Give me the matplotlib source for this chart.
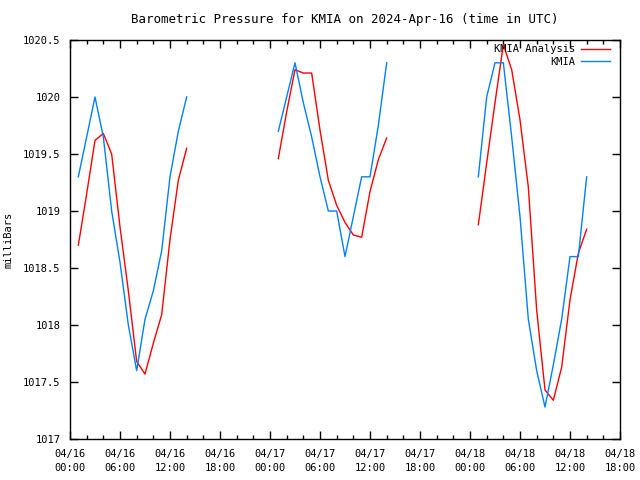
import numpy as np
import matplotlib
matplotlib.use("Agg")
import matplotlib.pyplot as plt

# hours since 2024-04-16 00:00 UTC, three separate runs
hours_1 = [1, 2, 3, 4, 5, 6, 7, 8, 9, 10, 11, 12, 13, 14]
hours_2 = [25, 26, 27, 28, 29, 30, 31, 32, 33, 34, 35, 36, 37, 38]
hours_3 = [49, 50, 51, 52, 53, 54, 55, 56, 57, 58, 59, 60, 61, 62]

kmia_1 = [1019.3, 1019.65, 1020.0, 1019.65, 1019.0, 1018.55, 1018.0, 1017.6,
          1018.05, 1018.3, 1018.65, 1019.3, 1019.7, 1020.0]
kmia_2 = [1019.7, 1020.0, 1020.3, 1019.95, 1019.65, 1019.3, 1019.0, 1019.0,
          1018.6, 1018.95, 1019.3, 1019.3, 1019.75, 1020.3]
kmia_3 = [1019.3, 1020.0, 1020.3, 1020.3, 1019.65, 1018.95, 1018.05, 1017.6,
          1017.28, 1017.65, 1018.05, 1018.6, 1018.6, 1019.3]

anal_1 = [1018.7, 1019.15, 1019.62, 1019.68, 1019.5, 1018.86, 1018.3, 1017.68,
          1017.57, 1017.84, 1018.09, 1018.75, 1019.27, 1019.55]
anal_2 = [1019.46, 1019.87, 1020.24, 1020.21, 1020.21, 1019.71, 1019.27, 1019.05,
          1018.9, 1018.79, 1018.77, 1019.17, 1019.45, 1019.64]
anal_3 = [1018.88, 1019.42, 1019.95, 1020.46, 1020.24, 1019.8, 1019.21, 1018.13,
          1017.43, 1017.34, 1017.63, 1018.22, 1018.63, 1018.84]

tick_hours = [0, 6, 12, 18, 24, 30, 36, 42, 48, 54, 60, 66]
tick_labels = ['04/16\n00:00', '04/16\n06:00', '04/16\n12:00', '04/16\n18:00',
               '04/17\n00:00', '04/17\n06:00', '04/17\n12:00', '04/17\n18:00',
               '04/18\n00:00', '04/18\n06:00', '04/18\n12:00', '04/18\n18:00']
y_ticks = [1017, 1017.5, 1018, 1018.5, 1019, 1019.5, 1020, 1020.5]
y_labels = ['1017', '1017.5', '1018', '1018.5', '1019', '1019.5', '1020', '1020.5']

plt.rcParams['font.family'] = 'DejaVu Sans Mono'
plt.rcParams['font.size'] = 7.5

fig = plt.figure(figsize=(6.4, 4.8), dpi=100)
ax = fig.add_axes([70 / 640, 41 / 480, 550 / 640, 399 / 480])

# join the runs with NaN gaps so each is a separate piece of line
x = hours_1 + [np.nan] + hours_2 + [np.nan] + hours_3
y_anal = anal_1 + [np.nan] + anal_2 + [np.nan] + anal_3
y_kmia = kmia_1 + [np.nan] + kmia_2 + [np.nan] + kmia_3

ax.plot(x, y_anal, color='#ff0000', lw=1, label='KMIA Analysis')
ax.plot(x, y_kmia, color='#0080ff', lw=1, label='KMIA')

ax.set_xlim(0, 66)
ax.set_ylim(1017, 1020.5)
ax.set_xticks(tick_hours)
ax.set_xticklabels(tick_labels, linespacing=1.55)
ax.set_xticks(np.arange(0, 67, 2), minor=True)
ax.set_yticks(y_ticks)
ax.set_yticklabels(y_labels)

ax.tick_params(which='both', direction='in', top=True, right=True, width=1, colors='black')
ax.tick_params(which='major', length=6, pad=7)
ax.tick_params(which='minor', length=3)
ax.tick_params(axis='y', which='major', pad=7)
ax.tick_params(axis='y', which='minor', left=False, right=False)
for s in ax.spines.values():
    s.set_linewidth(1)

ax.set_ylabel('milliBars', labelpad=7)
ax.set_title('Barometric Pressure for KMIA on 2024-Apr-16 (time in UTC)', pad=12)

ax.legend(loc='upper right', frameon=False, markerfirst=False, handlelength=2.8,
          borderaxespad=0.0, labelspacing=0.25, handletextpad=0.6,
          bbox_to_anchor=(0.99, 1.0))

fig.savefig('out.png', dpi=100)
